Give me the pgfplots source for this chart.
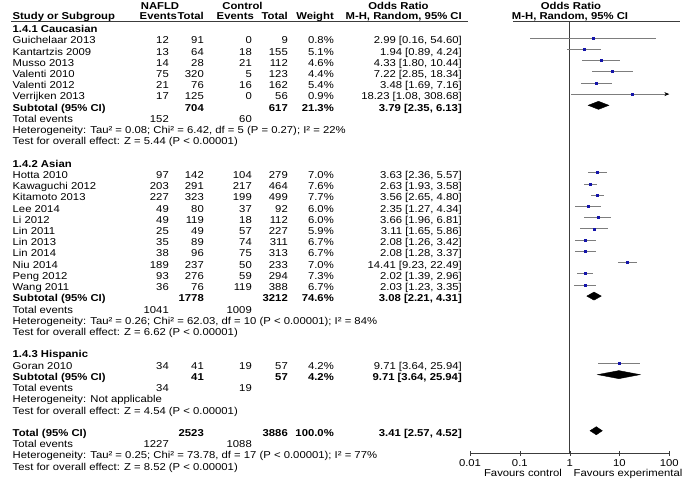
\documentclass[border=0pt]{standalone}
\usepackage{fontspec}
\setmainfont{Liberation Sans}[FakeStretch=1.13]
\usepackage{pgfplots}
\usepackage{pgfplotstable}
\pgfplotsset{compat=1.18}
\usetikzlibrary{arrows.meta}

\definecolor{cigray}{RGB}{125,125,125}
\definecolor{sqblue}{RGB}{20,20,170}
\definecolor{axgray}{RGB}{60,60,60}

% study estimates: row, odds ratio, lower, upper
\pgfplotstableread{
row or lo hi
1 2.99 0.16 54.60
2 1.94 0.89 4.24
3 4.33 1.80 10.44
4 7.22 2.85 18.34
5 3.48 1.69 7.16
13 3.63 2.36 5.57
14 2.63 1.93 3.58
15 3.56 2.65 4.80
16 2.35 1.27 4.34
17 3.66 1.96 6.81
18 3.11 1.65 5.86
19 2.08 1.26 3.42
20 2.08 1.28 3.37
21 14.41 9.23 22.49
22 2.02 1.39 2.96
23 2.03 1.23 3.35
30 9.71 3.64 25.94
}\studies

\newcommand\ry[1]{447.4-11.22*(#1)}
\newcommand\fs{\fontsize{10bp}{11bp}\selectfont}
% row name e1 t1 e2 t2 weight ci
\newcommand\study[8]{%
  \node[anchor=base west] at (12.5,{\ry{#1}}) {#2};
  \node[anchor=base east] at (169,{\ry{#1}}) {#3};
  \node[anchor=base east] at (204,{\ry{#1}}) {#4};
  \node[anchor=base east] at (252,{\ry{#1}}) {#5};
  \node[anchor=base east] at (288,{\ry{#1}}) {#6};
  \node[anchor=base east] at (334,{\ry{#1}}) {#7};
  \node[anchor=base east] at (462,{\ry{#1}}) {#8};
}
\newcommand\txt[2]{\node[anchor=base west] at (12.5,{\ry{#1}}) {#2};}

\begin{document}
\begin{tikzpicture}[x=1bp,y=1bp,every node/.style={inner sep=0pt,font=\fs}]
\path[use as bounding box] (0,0) rectangle (685,480);
\begin{axis}[
  at={(470bp,26.7bp)}, anchor=south west,
  scale only axis, width=199.3bp, height=431.8bp,
  xmode=log, xmin=0.01, xmax=100,
  ymin=-0.472, ymax=38.01, y dir=reverse,
  axis x line*=bottom, axis y line=none,
  axis line style={axgray},
  xtick={0.01,0.1,1,10,100},
  xticklabels={0.01,0.1,1,10,100},
  xminorticks=false,
  tick align=center, major tick length=5bp,
  tick style={axgray},
  xticklabel style={font=\fs, anchor=base, yshift=-11bp, inner sep=0pt},
  clip=false,
]
\addplot[axgray, line width=0.6pt] coordinates {(1,-0.472) (1,38.01)};
\addplot[cigray, line width=0.7pt, draw=none,
  error bars/.cd, x dir=both, x explicit,
  error bar style={cigray, line width=0.7pt}, error mark=none]
  table[x=or, y=row,
    x error plus expr=\thisrow{hi}-\thisrow{or},
    x error minus expr=\thisrow{or}-\thisrow{lo}] {\studies};
\addplot[cigray, line width=0.7pt, -{Stealth[length=5bp,width=4bp,black]}]
  coordinates {(1.08,6) (100,6)};
\addplot[only marks, mark=square*, mark size=1bp, sqblue]
  table[x=or, y=row] {\studies};
\addplot[only marks, mark=square*, mark size=0.8bp, sqblue]
  coordinates {(18.23,6)};
% pooled estimates
\addplot[fill=black, draw=black] coordinates {(2.35,7) (3.79,6.64) (6.13,7) (3.79,7.36)} -- cycle;
\addplot[fill=black, draw=black] coordinates {(2.21,24) (3.08,23.64) (4.31,24) (3.08,24.36)} -- cycle;
\addplot[fill=black, draw=black] coordinates {(3.64,31) (9.71,30.64) (25.94,31) (9.71,31.36)} -- cycle;
\addplot[fill=black, draw=black] coordinates {(2.57,36) (3.41,35.64) (4.52,36) (3.41,36.36)} -- cycle;
\end{axis}

% headers
\node[anchor=base,font=\fs\bfseries] at (160,470.5) {NAFLD};
\node[anchor=base,font=\fs\bfseries] at (242.5,470.5) {Control};
\node[anchor=base,font=\fs\bfseries] at (398.5,470.5) {Odds Ratio};
\node[anchor=base,font=\fs\bfseries] at (571,470.5) {Odds Ratio};
\node[anchor=base west,font=\fs\bfseries] at (12.5,460) {Study or Subgroup};
\node[anchor=base east,font=\fs\bfseries] at (177,460) {Events};
\node[anchor=base east,font=\fs\bfseries] at (204,460) {Total};
\node[anchor=base east,font=\fs\bfseries] at (254,460) {Events};
\node[anchor=base east,font=\fs\bfseries] at (288,460) {Total};
\node[anchor=base east,font=\fs\bfseries] at (334,460) {Weight};
\node[anchor=base east,font=\fs\bfseries] at (462,460) {M-H, Random, 95\% CI};
\node[anchor=base,font=\fs\bfseries] at (570,460) {M-H, Random, 95\% CI};
\draw[axgray, line width=0.6pt] (11,458.5) -- (468,458.5);
\draw[axgray, line width=0.6pt] (513,458.5) -- (680,458.5);

% 1.4.1
\txt{0}{\bfseries 1.4.1 Caucasian}
\study{1}{Guichelaar 2013}{12}{91}{0}{9}{0.8\%}{2.99 [0.16, 54.60]}
\study{2}{Kantartzis 2009}{13}{64}{18}{155}{5.1\%}{1.94 [0.89, 4.24]}
\study{3}{Musso 2013}{14}{28}{21}{112}{4.6\%}{4.33 [1.80, 10.44]}
\study{4}{Valenti 2010}{75}{320}{5}{123}{4.4\%}{7.22 [2.85, 18.34]}
\study{5}{Valenti 2012}{21}{76}{16}{162}{5.4\%}{3.48 [1.69, 7.16]}
\study{6}{Verrijken 2013}{17}{125}{0}{56}{0.9\%}{18.23 [1.08, 308.68]}
\study{7}{\bfseries Subtotal (95\% CI)}{}{\bfseries 704}{}{\bfseries 617}{\bfseries 21.3\%}{\bfseries 3.79 [2.35, 6.13]}
\study{8}{Total events}{152}{}{60}{}{}{}
\txt{9}{Heterogeneity: Tau² = 0.08; Chi² = 6.42, df = 5 (P = 0.27); I² = 22\%}
\txt{10}{Test for overall effect: Z = 5.44 (P < 0.00001)}

% 1.4.2
\txt{12}{\bfseries 1.4.2 Asian}
\study{13}{Hotta 2010}{97}{142}{104}{279}{7.0\%}{3.63 [2.36, 5.57]}
\study{14}{Kawaguchi 2012}{203}{291}{217}{464}{7.6\%}{2.63 [1.93, 3.58]}
\study{15}{Kitamoto 2013}{227}{323}{199}{499}{7.7\%}{3.56 [2.65, 4.80]}
\study{16}{Lee 2014}{49}{80}{37}{92}{6.0\%}{2.35 [1.27, 4.34]}
\study{17}{Li 2012}{49}{119}{18}{112}{6.0\%}{3.66 [1.96, 6.81]}
\study{18}{Lin 2011}{25}{49}{57}{227}{5.9\%}{3.11 [1.65, 5.86]}
\study{19}{Lin 2013}{35}{89}{74}{311}{6.7\%}{2.08 [1.26, 3.42]}
\study{20}{Lin 2014}{38}{96}{75}{313}{6.7\%}{2.08 [1.28, 3.37]}
\study{21}{Niu 2014}{189}{237}{50}{233}{7.0\%}{14.41 [9.23, 22.49]}
\study{22}{Peng 2012}{93}{276}{59}{294}{7.3\%}{2.02 [1.39, 2.96]}
\study{23}{Wang 2011}{36}{76}{119}{388}{6.7\%}{2.03 [1.23, 3.35]}
\study{24}{\bfseries Subtotal (95\% CI)}{}{\bfseries 1778}{}{\bfseries 3212}{\bfseries 74.6\%}{\bfseries 3.08 [2.21, 4.31]}
\study{25}{Total events}{1041}{}{1009}{}{}{}
\txt{26}{Heterogeneity: Tau² = 0.26; Chi² = 62.03, df = 10 (P < 0.00001); I² = 84\%}
\txt{27}{Test for overall effect: Z = 6.62 (P < 0.00001)}

% 1.4.3
\txt{29}{\bfseries 1.4.3 Hispanic}
\study{30}{Goran 2010}{34}{41}{19}{57}{4.2\%}{9.71 [3.64, 25.94]}
\study{31}{\bfseries Subtotal (95\% CI)}{}{\bfseries 41}{}{\bfseries 57}{\bfseries 4.2\%}{\bfseries 9.71 [3.64, 25.94]}
\study{32}{Total events}{34}{}{19}{}{}{}
\txt{33}{Heterogeneity: Not applicable}
\txt{34}{Test for overall effect: Z = 4.54 (P < 0.00001)}

% total
\study{36}{\bfseries Total (95\% CI)}{}{\bfseries 2523}{}{\bfseries 3886}{\bfseries 100.0\%}{\bfseries 3.41 [2.57, 4.52]}
\study{37}{Total events}{1227}{}{1088}{}{}{}
\txt{38}{Heterogeneity: Tau² = 0.25; Chi² = 73.78, df = 17 (P < 0.00001); I² = 77\%}
\txt{39}{Test for overall effect: Z = 8.52 (P < 0.00001)}

\node[anchor=base] at (523,3.7) {Favours control};
\node[anchor=base] at (628,3.7) {Favours experimental};
\end{tikzpicture}
\end{document}
